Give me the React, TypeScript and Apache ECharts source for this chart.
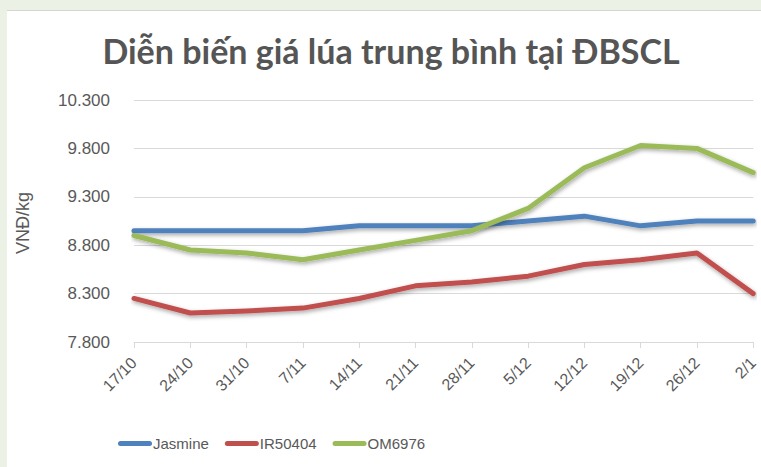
import React, { useEffect, useRef } from "react";
import * as echarts from "echarts";

const categories = ["17/10", "24/10", "31/10", "7/11", "14/11", "21/11", "28/11", "5/12", "12/12", "19/12", "26/12", "2/1"];
const jasmine = [8950, 8950, 8950, 8950, 9000, 9000, 9000, 9050, 9100, 9000, 9050, 9050];
const ir50404 = [8250, 8100, 8120, 8150, 8250, 8380, 8420, 8480, 8600, 8650, 8720, 8300];
const om6976 = [8900, 8750, 8720, 8650, 8750, 8850, 8950, 9180, 9600, 9830, 9800, 9550];
const seriesNames = ["Jasmine", "IR50404", "OM6976"];
const seriesColors = ["#4f81bd", "#c0504d", "#9bbb59"];
const titleText = "Diễn biến giá lúa trung bình tại ĐBSCL";
const yAxisName = "VNĐ/kg";

const fmt = (v: number) => {
  const s = String(Math.round(v));
  return s.replace(/\B(?=(\d{3})+(?!\d))/g, ".");
};

export default function App() {
  const ref = useRef<HTMLDivElement>(null);
  useEffect(() => {
    if (!ref.current) return;
    const chart = echarts.init(ref.current, null, { renderer: "svg" });
    const datas = [jasmine, ir50404, om6976];
    const pill = "path://M2.5,0 L31.5,0 A2.5,2.5 0 0 1 31.5,5 L2.5,5 A2.5,2.5 0 0 1 2.5,0 Z";
    chart.setOption({
      animation: false,
      grid: { left: 127, right: 0, top: 89, bottom: 125, containLabel: false },
      graphic: [
        {
          type: "text",
          x: 384,
          y: 39,
          style: {
            text: titleText,
            font: "bold 34px Lato, 'Open Sans', sans-serif",
            fill: "#555555",
            textAlign: "center",
            textVerticalAlign: "middle",
          },
        },
        {
          type: "text",
          x: 16,
          y: 212,
          rotation: Math.PI / 2,
          style: {
            text: yAxisName,
            font: "18px 'Liberation Sans', Arial, sans-serif",
            fill: "#595959",
            textAlign: "center",
            textVerticalAlign: "middle",
          },
        },
      ],
      legend: {
        left: 106,
        top: 420,
        itemWidth: 34,
        itemHeight: 5,
        itemGap: 16,
        icon: pill,
        data: seriesNames,
        textStyle: {
          fontFamily: "'Liberation Sans', Arial, sans-serif",
          fontSize: 15,
          color: "#595959",
          padding: [0, 0, 0, -4],
        },
      },
      xAxis: {
        type: "category",
        data: categories,
        boundaryGap: false,
        axisLine: { lineStyle: { color: "#d9d9d9", width: 1 } },
        axisTick: { show: true, length: 6, lineStyle: { color: "#d9d9d9" } },
        axisLabel: {
          rotate: 45,
          margin: 18,
          interval: 0,
          color: "#595959",
          fontSize: 16,
          fontFamily: "'Liberation Sans', Arial, sans-serif",
        },
        splitLine: { show: false },
      },
      yAxis: {
        type: "value",
        min: 7800,
        max: 10300,
        interval: 500,
        axisLine: { show: false },
        axisTick: { show: false },
        axisLabel: {
          margin: 24,
          color: "#595959",
          fontSize: 17,
          fontFamily: "'Liberation Sans', Arial, sans-serif",
          formatter: (v: number) => fmt(v),
        },
        splitLine: { lineStyle: { color: "#d9d9d9", width: 1 } },
      },
      series: seriesNames.map((name, i) => ({
        name,
        type: "line",
        data: datas[i],
        symbol: "none",
        showSymbol: false,
        color: seriesColors[i],
        lineStyle: {
          width: 5,
          color: seriesColors[i],
          cap: "round",
          join: "round",
          shadowColor: "rgba(0,0,0,0.35)",
          shadowBlur: 4,
          shadowOffsetX: 1,
          shadowOffsetY: 2,
        },
        itemStyle: { color: seriesColors[i] },
      })),
    });
    return () => chart.dispose();
  }, []);

  return (
    <div style={{ position: "absolute", left: 0, top: 0, width: 761, height: 467, background: "#ebf1e5", overflow: "hidden" }}>
      <div
        style={{
          position: "absolute",
          left: 7,
          top: 10,
          width: 754,
          height: 457,
          background: "#ffffff",
          borderTop: "1px solid #d4d8d0",
          boxSizing: "border-box",
        }}
      >
        <div ref={ref} style={{ position: "absolute", left: 0, top: 0, width: 754, height: 456 }} />
      </div>
    </div>
  );
}
